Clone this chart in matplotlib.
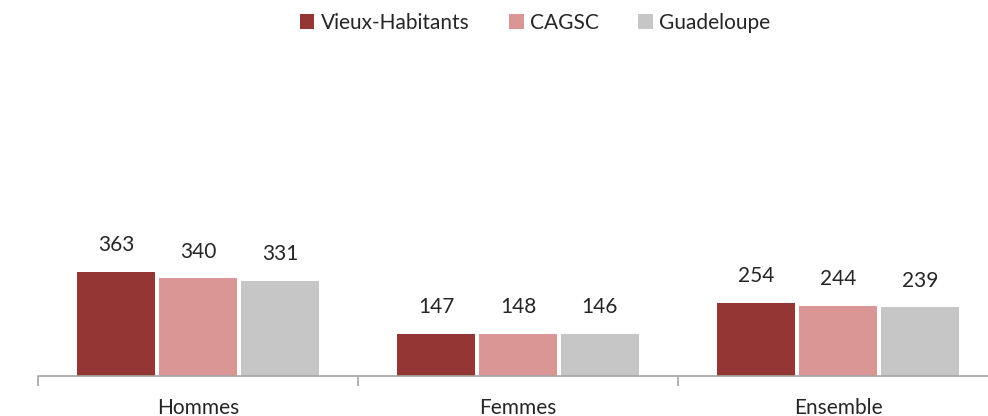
import numpy as np
import matplotlib
import matplotlib.pyplot as plt

matplotlib.rcParams.update({'font.family': ['Lato', 'DejaVu Sans']})

categories = ["Hommes", "Femmes", "Ensemble"]
series = ["Vieux-Habitants", "CAGSC", "Guadeloupe"]
vieux = [363, 147, 254]
cagsc = [340, 148, 244]
guadeloupe = [331, 146, 239]
colors = ["#943634", "#DA9694", "#C6C6C6"]

fsize = 15

fig = plt.figure(figsize=(9.88, 4.16), dpi=100)
ax = fig.add_axes([38/988, 40/416, 960/988, 0.69])

x = np.arange(len(categories))
barw = 0.244
step = 0.256
for i, (name, vals) in enumerate(zip(series, [vieux, cagsc, guadeloupe])):
    b = ax.bar(x + (i - 1) * step, vals, width=barw, color=colors[i], label=name)
    ax.bar_label(b, labels=[str(v) for v in vals], padding=12, fontsize=fsize, color="#262626")

ax.set_xlim(-0.5, 2.5)
ax.set_ylim(0, 1000)
ax.set_yticks([])
for s in ["top", "right", "left"]:
    ax.spines[s].set_visible(False)
ax.spines["bottom"].set_color("#A6A6A6")
ax.spines["bottom"].set_linewidth(1.2)

ax.set_xticks(x)
ax.set_xticklabels(categories, fontsize=fsize, color="#262626")
ax.tick_params(axis='x', which='major', length=0, pad=16)
ax.set_xticks([-0.5, 0.5, 1.5, 2.5], minor=True)
ax.tick_params(axis='x', which='minor', length=7, width=1.2, color="#A6A6A6")

fig.legend(loc="upper center", bbox_to_anchor=(535/988, 1.015), ncol=3, frameon=False,
           fontsize=fsize, handlelength=0.7, handleheight=0.7, handletextpad=0.3,
           columnspacing=1.9, labelcolor="#262626")

fig.savefig("out.png", dpi=100)
